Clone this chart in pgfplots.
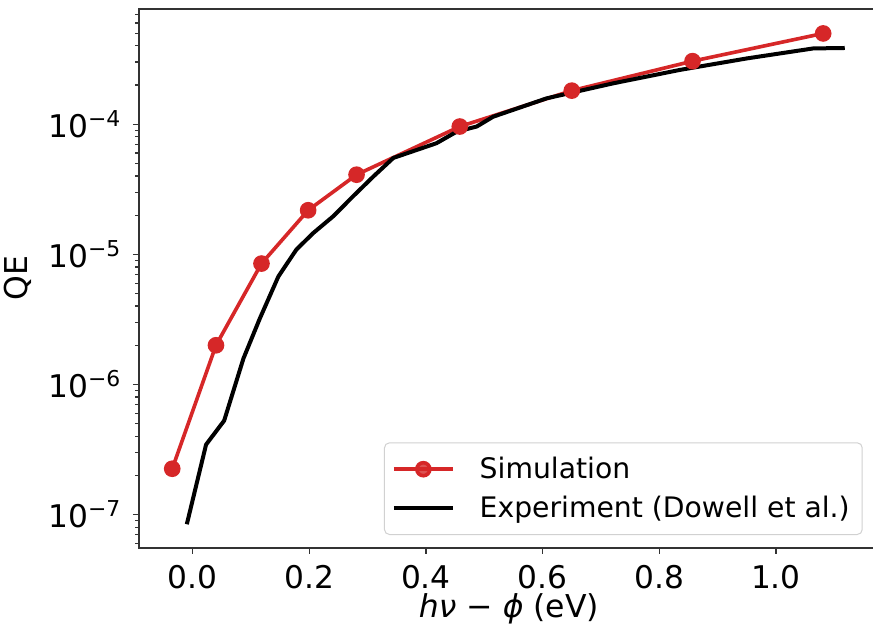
\documentclass[border=0pt]{standalone}
\usepackage{fontspec}
\setmainfont{DejaVu Sans}
\usepackage{pgfplots}
\pgfplotsset{compat=1.18}
\definecolor{tabred}{RGB}{214,39,40}
\begin{document}
\begin{tikzpicture}
\begin{axis}[
  scale only axis,
  width=296pt, height=215.5pt,
  ymode=log,
  xmin=-0.092, xmax=1.1767,
  ymin=5.56e-8, ymax=7.67e-4,
  xtick={0,0.2,0.4,0.6,0.8,1.0},
  ytick={1e-7,1e-6,1e-5,1e-4},
  minor ytick={6e-8,7e-8,8e-8,9e-8,2e-7,3e-7,4e-7,5e-7,6e-7,7e-7,8e-7,9e-7,2e-6,3e-6,4e-6,5e-6,6e-6,7e-6,8e-6,9e-6,2e-5,3e-5,4e-5,5e-5,6e-5,7e-5,8e-5,9e-5,2e-4,3e-4,4e-4,5e-4,6e-4,7e-4},
  xticklabel style={/pgf/number format/fixed, /pgf/number format/fixed zerofill, /pgf/number format/precision=1, /pgf/number format/assume math mode=true, yshift=-1pt},
  yticklabel={\pgfmathparse{int(round(-\tick/ln(10)))}10\textsuperscript{−\pgfmathresult}},
  tick align=outside,
  xtick pos=left, ytick pos=left,
  major tick length=2.4pt, minor tick length=1.5pt,
  every tick/.style={black!80, line width=0.5pt},
  axis line style={black!80, line width=0.6pt},
  ticklabel style={font=\fontsize{12.5}{14}\selectfont},
  yticklabel style={xshift=-1pt},
  label style={font=\fontsize{12.6}{14}\selectfont},
  xlabel={\textit{hν} − \textit{ϕ} (eV)},
  xlabel style={yshift=5pt},
  ylabel={QE},
  legend style={
    at={(rel axis cs:1,0)}, anchor=south east, xshift=-6.5pt, yshift=5.1pt,
    font=\fontsize{11.3}{13}\selectfont,
    draw=black!18, rounded corners=2pt, fill=white, fill opacity=0.8, text opacity=1,
    inner xsep=3pt, inner ysep=3.5pt, row sep=1.5pt,
    /tikz/every odd column/.append style={column sep=8pt},
  },
  legend cell align=left,
  legend image code/.code={
    \draw[mark repeat=2, mark phase=2, #1] plot coordinates {(0pt,0pt) (11.75pt,0pt) (23.5pt,0pt)};
  },
]
\addplot[tabred, line width=1.45pt, mark=*, mark size=2.6pt, mark options={fill=tabred, draw=tabred}]
table {
x y
-0.035 2.25e-7
0.040 2.0e-6
0.118 8.49e-6
0.198 2.18e-5
0.281 4.09e-5
0.458 9.59e-5
0.650 1.81e-4
0.857 3.05e-4
1.081 4.98e-4
};
\addlegendentry{Simulation}
\addplot[black, line width=1.6pt, line join=round]
table {
x y
-0.010 8.43e-8
0.023 3.45e-7
0.054 5.27e-7
0.087 1.58e-6
0.115 3.2e-6
0.147 6.76e-6
0.178 1.09e-5
0.207 1.46e-5
0.241 1.96e-5
0.275 2.79e-5
0.310 3.97e-5
0.344 5.5e-5
0.418 7.14e-5
0.453 8.77e-5
0.487 9.59e-5
0.515 1.14e-4
0.607 1.58e-4
0.721 2.06e-4
0.835 2.61e-4
0.950 3.2e-4
1.064 3.82e-4
1.118 3.85e-4
};
\addlegendentry{Experiment (Dowell et al.)}
\end{axis}
\pgfresetboundingbox
\path[use as bounding box] ([shift={(-55.6pt,-32.9pt)}]current axis.south west) rectangle ([shift={(293.6pt,219.1pt)}]current axis.south west);
\end{tikzpicture}
\end{document}
